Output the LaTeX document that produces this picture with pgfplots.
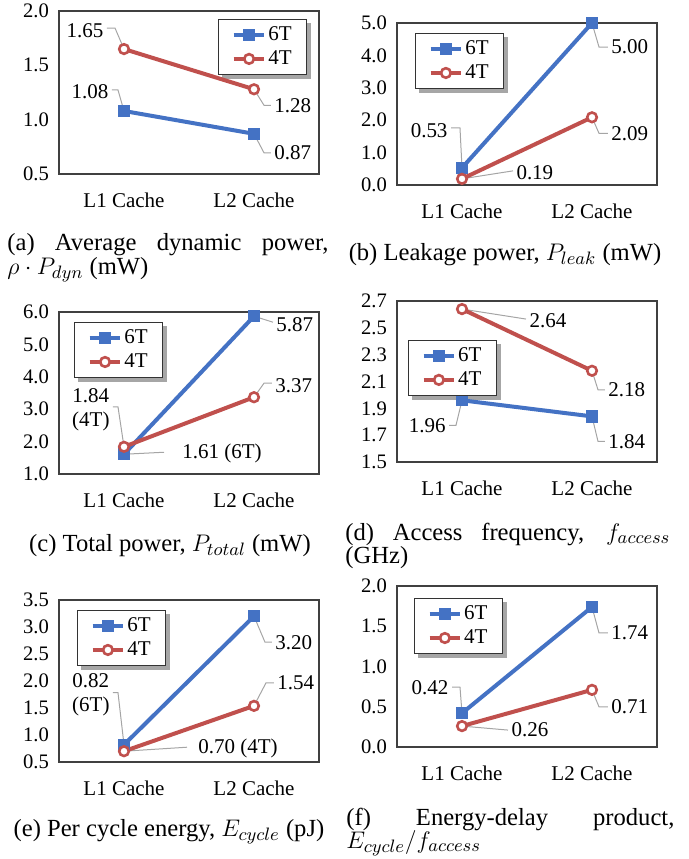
\documentclass[border=0pt]{standalone}
\usepackage{fontspec}
\setmainfont{Liberation Serif}
\usepackage{pgfplots}
\pgfplotsset{compat=1.18}
\pgfdeclarelayer{shad}
\pgfsetlayers{shad,main}
\definecolor{c6}{RGB}{68,114,196}
\definecolor{c4}{RGB}{192,80,77}
\definecolor{leadc}{RGB}{165,165,165}
\pgfplotsset{
 myax/.style={
   scale only axis, width=130pt,
   anchor=north west,
   xmin=-0.5, xmax=1.5, xtick={0,1}, xticklabels={L1 Cache, L2 Cache},
   major tick length=0pt,
   axis line style={black!75, line width=0.6pt},
   tick label style={font=\fontsize{10.3}{12}\selectfont},
   xticklabel style={yshift=-6pt, font=\fontsize{10.5}{12}\selectfont},
   yticklabel style={xshift=-1.5pt, /pgf/number format/.cd, fixed, fixed zerofill, precision=1, /tikz/.cd},
   /pgf/number format/assume math mode=true,
   clip=false,
   legend cell align=left,
   legend style={font=\fontsize{10.5}{12}\selectfont, draw=black!80, line width=0.6pt, fill=white, anchor=north west,
     inner xsep=6.5pt, inner ysep=2.5pt, row sep=1.5pt, nodes={inner sep=1pt}},
   legend image code/.code={\draw[mark repeat=2,mark phase=2,#1] plot coordinates {(0cm,0cm) (0.27cm,0cm) (0.54cm,0cm)};},
 },
 s6/.style={color=c6, line width=2pt, mark=square*, mark size=2.8pt, mark options={fill=c6, line width=0.4pt}},
 s4/.style={color=c4, line width=2pt, mark=*, mark size=2.4pt, mark options={fill=white, draw=c4, line width=1.3pt}},
}
\tikzset{ld/.style={draw=leadc, line width=0.5pt}, lb/.style={inner sep=1.5pt, font=\fontsize{10.5}{12}\selectfont, text=black}}
\newcommand{\shadowof}[1]{\begin{pgfonlayer}{shad}\fill[black!35] ([xshift=2pt,yshift=-2pt]#1.south west) rectangle ([xshift=2pt,yshift=-2pt]#1.north east);\end{pgfonlayer}}
\begin{document}
\begin{tikzpicture}
\useasboundingbox (0,0) rectangle (344.5pt,-429.5pt);
% (a)
\begin{axis}[myax, at={(29.5pt,-5.5pt)}, height=81.5pt, ymin=0.5, ymax=2.0, ytick={0.5,1.0,1.5,2.0}, legend style={at={(0.612,0.951)}, name=lga}]
\draw[ld] (axis cs:0,1.65) -- ([xshift=-4.5pt,yshift=10.5pt]axis cs:0,1.65) -- ([xshift=-8.5pt,yshift=10.5pt]axis cs:0,1.65) node[lb,anchor=east,yshift=-1.5pt]{1.65};
\draw[ld] (axis cs:0,1.08) -- ([xshift=-3pt,yshift=10.5pt]axis cs:0,1.08) -- ([xshift=-6pt,yshift=10.5pt]axis cs:0,1.08) node[lb,anchor=east,yshift=-1pt]{1.08};
\draw[ld] (axis cs:1,1.28) -- ([xshift=5pt,yshift=-8pt]axis cs:1,1.28) -- ([xshift=8.5pt,yshift=-8pt]axis cs:1,1.28) node[lb,anchor=west]{1.28};
\draw[ld] (axis cs:1,0.87) -- ([xshift=5pt,yshift=-9.5pt]axis cs:1,0.87) -- ([xshift=8.5pt,yshift=-9.5pt]axis cs:1,0.87) node[lb,anchor=west]{0.87};
\addplot[s6] coordinates {(0,1.08) (1,0.87)};
\addplot[s4] coordinates {(0,1.65) (1,1.28)};
\legend{6T,4T}
\end{axis}
\shadowof{lga}
% (b)
\begin{axis}[myax, at={(198.5pt,-11.5pt)}, height=81pt, ymin=0, ymax=5, ytick={0,1,2,3,4,5}, legend style={at={(0.069,0.938)}, name=lgb}]
\draw[ld] (axis cs:0,0.53) -- ([xshift=-1pt,yshift=20pt]axis cs:0,0.53) -- ([xshift=-5.5pt,yshift=20pt]axis cs:0,0.53) node[lb,anchor=east,yshift=-1.5pt]{0.53};
\draw[ld] (axis cs:0,0.19) -- ([xshift=25.5pt,yshift=4pt]axis cs:0,0.19) node[lb,anchor=west,yshift=-1pt]{0.19};
\draw[ld] (axis cs:1,5) -- ([xshift=3.5pt,yshift=-12pt]axis cs:1,5) -- ([xshift=8pt,yshift=-12pt]axis cs:1,5) node[lb,anchor=west]{5.00};
\draw[ld] (axis cs:1,2.09) -- ([xshift=3.5pt,yshift=-8pt]axis cs:1,2.09) -- ([xshift=8pt,yshift=-8pt]axis cs:1,2.09) node[lb,anchor=west]{2.09};
\addplot[s6] coordinates {(0,0.53) (1,5.00)};
\addplot[s4] coordinates {(0,0.19) (1,2.09)};
\legend{6T,4T}
\end{axis}
\shadowof{lgb}
% (c)
\begin{axis}[myax, at={(29.5pt,-156pt)}, height=81pt, ymin=1, ymax=6, ytick={1,2,3,4,5,6}, legend style={at={(0.058,0.938)}, name=lgc}]
\draw[ld] (axis cs:0,1.84) -- ([xshift=-3pt,yshift=20pt]axis cs:0,1.84) -- ([xshift=-5.5pt,yshift=20pt]axis cs:0,1.84) node[lb,anchor=east,align=center,yshift=-1.5pt]{1.84\\(4T)};
\draw[ld] (axis cs:0,1.61) -- ([xshift=20pt,yshift=1pt]axis cs:0,1.61);
\node[lb,anchor=west] at ([xshift=27.5pt,yshift=0.5pt]axis cs:0,1.61) {1.61 (6T)};
\draw[ld] (axis cs:1,5.87) -- ([xshift=9.5pt,yshift=-3pt]axis cs:1,5.87) node[lb,anchor=west,yshift=-1pt]{5.87};
\draw[ld] (axis cs:1,3.37) -- ([xshift=5pt,yshift=7pt]axis cs:1,3.37) -- ([xshift=9pt,yshift=7pt]axis cs:1,3.37) node[lb,anchor=west,yshift=-1pt]{3.37};
\addplot[s6] coordinates {(0,1.61) (1,5.87)};
\addplot[s4] coordinates {(0,1.84) (1,3.37)};
\legend{6T,4T}
\end{axis}
\shadowof{lgc}
% (d)
\begin{axis}[myax, at={(198.5pt,-150.5pt)}, height=80.5pt, ymin=1.5, ymax=2.7, ytick={1.5,1.7,1.9,2.1,2.3,2.5,2.7}, legend style={at={(0.042,0.758)}, name=lgd}]
\draw[ld] (axis cs:0,2.64) -- ([xshift=32pt,yshift=-5pt]axis cs:0,2.64) node[lb,anchor=west,yshift=-1pt]{2.64};
\draw[ld] (axis cs:1,2.18) -- ([xshift=3pt,yshift=-9.5pt]axis cs:1,2.18) -- ([xshift=6.5pt,yshift=-9.5pt]axis cs:1,2.18) node[lb,anchor=west]{2.18};
\draw[ld] (axis cs:0,1.96) -- ([xshift=-3pt,yshift=-12.5pt]axis cs:0,1.96) -- ([xshift=-6.5pt,yshift=-12.5pt]axis cs:0,1.96) node[lb,anchor=east]{1.96};
\draw[ld] (axis cs:1,1.84) -- ([xshift=3pt,yshift=-12.5pt]axis cs:1,1.84) -- ([xshift=6.5pt,yshift=-12.5pt]axis cs:1,1.84) node[lb,anchor=west]{1.84};
\addplot[s6] coordinates {(0,1.96) (1,1.84)};
\addplot[s4] coordinates {(0,2.64) (1,2.18)};
\legend{6T,4T}
\end{axis}
\shadowof{lgd}
% (e)
\begin{axis}[myax, at={(29.5pt,-300pt)}, height=81pt, ymin=0.5, ymax=3.5, ytick={0.5,1.0,1.5,2.0,2.5,3.0,3.5}, legend style={at={(0.069,0.938)}, name=lge}]
\draw[ld] (axis cs:0,0.82) -- ([xshift=-3pt,yshift=26pt]axis cs:0,0.82) -- ([xshift=-5.5pt,yshift=26pt]axis cs:0,0.82) node[lb,anchor=east,align=center,yshift=-1pt]{0.82\\(6T)};
\draw[ld] (axis cs:0,0.70) -- ([xshift=31.5pt,yshift=2pt]axis cs:0,0.70);
\node[lb,anchor=west] at ([xshift=35.5pt,yshift=1.5pt]axis cs:0,0.70) {0.70 (4T)};
\draw[ld] (axis cs:1,3.20) -- ([xshift=5.5pt,yshift=-13pt]axis cs:1,3.20) -- ([xshift=9pt,yshift=-13pt]axis cs:1,3.20) node[lb,anchor=west]{3.20};
\draw[ld] (axis cs:1,1.54) -- ([xshift=6pt,yshift=11.5pt]axis cs:1,1.54) -- ([xshift=10pt,yshift=11.5pt]axis cs:1,1.54) node[lb,anchor=west]{1.54};
\addplot[s6] coordinates {(0,0.82) (1,3.20)};
\addplot[s4] coordinates {(0,0.70) (1,1.54)};
\legend{6T,4T}
\end{axis}
\shadowof{lge}
% (f)
\begin{axis}[myax, at={(198.5pt,-293pt)}, height=80.5pt, ymin=0, ymax=2, ytick={0,0.5,1.0,1.5,2.0}, legend style={at={(0.065,0.925)}, name=lgf}]
\draw[ld] (axis cs:0,0.42) -- ([xshift=-1pt,yshift=13pt]axis cs:0,0.42) -- ([xshift=-5pt,yshift=13pt]axis cs:0,0.42) node[lb,anchor=east]{0.42};
\draw[ld] (axis cs:0,0.26) -- ([xshift=23pt,yshift=-2pt]axis cs:0,0.26) node[lb,anchor=west]{0.26};
\draw[ld] (axis cs:1,1.74) -- ([xshift=3.5pt,yshift=-13pt]axis cs:1,1.74) -- ([xshift=8pt,yshift=-13pt]axis cs:1,1.74) node[lb,anchor=west]{1.74};
\draw[ld] (axis cs:1,0.71) -- ([xshift=3.5pt,yshift=-8.5pt]axis cs:1,0.71) -- ([xshift=8pt,yshift=-8.5pt]axis cs:1,0.71) node[lb,anchor=west]{0.71};
\addplot[s6] coordinates {(0,0.42) (1,1.74)};
\addplot[s4] coordinates {(0,0.26) (1,0.71)};
\legend{6T,4T}
\end{axis}
\shadowof{lgf}
% captions
\begin{scope}[every node/.style={inner sep=0pt, font=\fontsize{12.3}{14}\selectfont}]
\node[anchor=base west] at (3.5pt,-125pt) {\makebox[160.5pt][s]{(a) Average dynamic power,}};
\node[anchor=base west] at (3.5pt,-137pt) {$\rho\cdot P_{dyn}$ (mW)};
\node[anchor=base] at (252.5pt,-130pt) {(b) Leakage power, $P_{leak}$ (mW)};
\node[anchor=base] at (85pt,-275.8pt) {(c) Total power, $P_{total}$ (mW)};
\node[anchor=base west] at (172.5pt,-270pt) {\makebox[162.5pt][s]{(d) Access frequency, $f_{access}$}};
\node[anchor=base west] at (172.5pt,-281.5pt) {(GHz)};
\node[anchor=base] at (84.5pt,-418.3pt) {(e) Per cycle energy, $E_{cycle}$ (pJ)};
\node[anchor=base west] at (173pt,-412.5pt) {\makebox[164pt][s]{(f) Energy-delay product,}};
\node[anchor=base west] at (173pt,-424pt) {$E_{cycle}/f_{access}$};
\end{scope}
\end{tikzpicture}
\end{document}
